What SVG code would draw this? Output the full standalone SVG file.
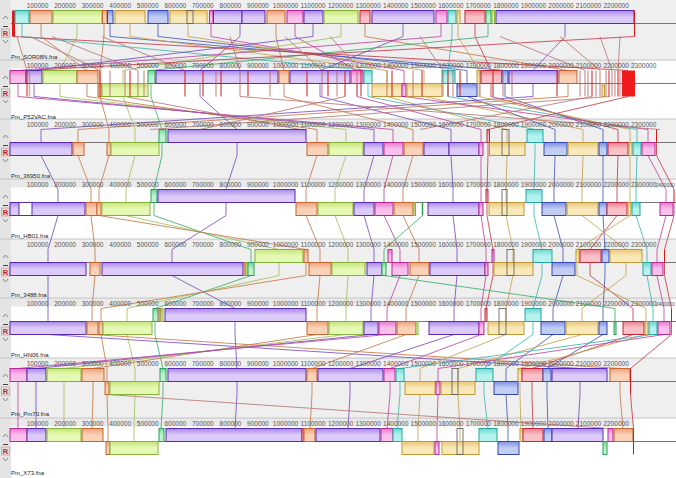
<svg xmlns="http://www.w3.org/2000/svg" xmlns:xlink="http://www.w3.org/1999/xlink" width="676" height="478" viewBox="0 0 676 478">
<style>
text{font-family:"Liberation Sans",Arial,sans-serif}
.num{font-size:6.5px;fill:#555;text-anchor:middle}
.numE{font-size:5px;fill:#555;text-anchor:end}
.lab{font-size:6px;fill:#222}
rect.tl,rect.or,rect.li,rect.ye,rect.bl,rect.pu,rect.pk,rect.rd,rect.mi{stroke-width:1}
rect.tl{fill:url(#g-tl);stroke:#25a59e}
rect.or{fill:url(#g-or);stroke:#c5652f}
rect.li{fill:url(#g-li);stroke:#86b23a}
rect.ye{fill:url(#g-ye);stroke:#c09a3a}
rect.bl{fill:url(#g-bl);stroke:#3548b0}
rect.pu{fill:url(#g-pu);stroke:#5a2ab0}
rect.pk{fill:url(#g-pk);stroke:#b52a92}
rect.rd{fill:url(#g-rd);stroke:#c0283c}
rect.mi{fill:url(#g-mi);stroke:#2f9e58}
.fr{fill:none;stroke:#555;stroke-width:0.8}
.cl{stroke:#777;stroke-width:1}
.rl{stroke:#d01818;stroke-width:1}
.rb{stroke:#b86060;stroke-width:1.5;opacity:0.55}
#connectors polyline{fill:none;stroke-width:1;opacity:0.85}
polyline.tl{stroke:#40b8b0}
polyline.or{stroke:#c87a4a}
polyline.li{stroke:#a2c25a}
polyline.ye{stroke:#c4a450}
polyline.bl{stroke:#4a5ab8}
polyline.pu{stroke:#7a50c0}
polyline.pk{stroke:#c048a0}
polyline.rd{stroke:#c83c4c}
polyline.mi{stroke:#3fae6a}
polyline.rs{stroke:#b87878;opacity:0.5}
</style>
<defs>
<linearGradient id="g-tl" x1="0" y1="0" x2="0" y2="1"><stop offset="0" stop-color="#6fd6d0"/><stop offset="0.5" stop-color="#b4f2ee"/></linearGradient>
<linearGradient id="g-or" x1="0" y1="0" x2="0" y2="1"><stop offset="0" stop-color="#eba27a"/><stop offset="0.5" stop-color="#f9d2b8"/></linearGradient>
<linearGradient id="g-li" x1="0" y1="0" x2="0" y2="1"><stop offset="0" stop-color="#c6e47a"/><stop offset="0.5" stop-color="#e6f9b4"/></linearGradient>
<linearGradient id="g-ye" x1="0" y1="0" x2="0" y2="1"><stop offset="0" stop-color="#e8c878"/><stop offset="0.5" stop-color="#f9e8b8"/></linearGradient>
<linearGradient id="g-bl" x1="0" y1="0" x2="0" y2="1"><stop offset="0" stop-color="#7f90e0"/><stop offset="0.5" stop-color="#c2cdf4"/></linearGradient>
<linearGradient id="g-pu" x1="0" y1="0" x2="0" y2="1"><stop offset="0" stop-color="#a888e8"/><stop offset="0.5" stop-color="#dccaf8"/></linearGradient>
<linearGradient id="g-pk" x1="0" y1="0" x2="0" y2="1"><stop offset="0" stop-color="#e878d0"/><stop offset="0.5" stop-color="#f9c0ec"/></linearGradient>
<linearGradient id="g-rd" x1="0" y1="0" x2="0" y2="1"><stop offset="0" stop-color="#e8808e"/><stop offset="0.5" stop-color="#f9c0c8"/></linearGradient>
<linearGradient id="g-mi" x1="0" y1="0" x2="0" y2="1"><stop offset="0" stop-color="#70d898"/><stop offset="0.5" stop-color="#c0f2d2"/></linearGradient>
<g id="ruler22">
<text class="num" x="37.5" y="7.5">100000</text><text class="num" x="65.1" y="7.5">200000</text><text class="num" x="92.6" y="7.5">300000</text><text class="num" x="120.2" y="7.5">400000</text><text class="num" x="147.7" y="7.5">500000</text><text class="num" x="175.3" y="7.5">600000</text><text class="num" x="202.8" y="7.5">700000</text><text class="num" x="230.4" y="7.5">800000</text><text class="num" x="257.9" y="7.5">900000</text><text class="num" x="285.5" y="7.5">1000000</text><text class="num" x="313" y="7.5">1100000</text><text class="num" x="340.6" y="7.5">1200000</text><text class="num" x="368.1" y="7.5">1300000</text><text class="num" x="395.7" y="7.5">1400000</text><text class="num" x="423.2" y="7.5">1500000</text><text class="num" x="450.8" y="7.5">1600000</text><text class="num" x="478.3" y="7.5">1700000</text><text class="num" x="505.9" y="7.5">1800000</text><text class="num" x="533.4" y="7.5">1900000</text><text class="num" x="561" y="7.5">2000000</text><text class="num" x="588.5" y="7.5">2100000</text><text class="num" x="616.1" y="7.5">2200000</text>
</g>
<g id="ctl">
<polyline points="3,19 5.5,16 8,19" fill="none" stroke="#888" stroke-width="1"/>
<line x1="3" y1="26.5" x2="8" y2="26.5" stroke="#444" stroke-width="1"/>
<rect x="1.5" y="29" width="8" height="8" fill="#e0e0e0" stroke="#c88" stroke-width="0.6"/>
<text x="5.5" y="36" font-size="7.5" font-weight="bold" fill="#d01818" text-anchor="middle">R</text>
<polyline points="3,40 5.5,43 8,40" fill="none" stroke="#888" stroke-width="1"/>
</g>
</defs>

<g id="backgrounds">
<rect x="0" y="0" width="676" height="478" fill="#ffffff"/>
<rect x="0" y="0" width="676" height="60" fill="#efefef"/>
<rect x="0" y="119" width="676" height="60" fill="#efefef"/>
<rect x="0" y="239" width="676" height="59" fill="#efefef"/>
<rect x="0" y="358" width="676" height="60" fill="#efefef"/>
<rect x="11" y="60" width="624" height="8.5" fill="#e9e9e9"/>
<rect x="11" y="179" width="662" height="8.5" fill="#e9e9e9"/>
<rect x="11" y="298" width="660" height="8.5" fill="#e9e9e9"/>
<rect x="11" y="418" width="622" height="8.5" fill="#e9e9e9"/>
<rect x="0" y="0" width="11" height="478" fill="#e4e4e4"/>
<g stroke="#c4c4c4" stroke-width="1">
<line x1="0" y1="60" x2="676" y2="60"/><line x1="0" y1="119" x2="676" y2="119"/><line x1="0" y1="179" x2="676" y2="179"/><line x1="0" y1="239" x2="676" y2="239"/><line x1="0" y1="298" x2="676" y2="298"/><line x1="0" y1="358" x2="676" y2="358"/><line x1="0" y1="418" x2="676" y2="418"/>
</g>
<g class="cl">
<line x1="11" y1="23.5" x2="676" y2="23.5"/><line x1="11" y1="83.5" x2="676" y2="83.5"/><line x1="11" y1="142.5" x2="676" y2="142.5"/><line x1="11" y1="202.5" x2="676" y2="202.5"/><line x1="11" y1="262.5" x2="676" y2="262.5"/><line x1="11" y1="321.5" x2="676" y2="321.5"/><line x1="11" y1="381.5" x2="676" y2="381.5"/><line x1="11" y1="441.5" x2="676" y2="441.5"/>
</g>
</g>

<g id="connectors">
<polyline class="tl" points="22,23.5 22,36.5 368,70.5"/>
<polyline class="or" points="41,23.5 41,36.5 87,70.5"/>
<polyline class="li" points="77,23.5 77,36.5 60,70.5"/>
<polyline class="or" points="104,23.5 104,36.5 100,70.5 100,83.5"/>
<polyline class="bl" points="110,23.5 110,36.5 505,70.5"/>
<polyline class="ye" points="130,23.5 130,36.5 387,70.5 387,83.5"/>
<polyline class="bl" points="158,23.5 158,36.5 467,70.5 467,83.5"/>
<polyline class="ye" points="188,23.5 188,36.5 424,70.5 424,83.5"/>
<polyline class="pk" points="211,23.5 211,36.5 404,70.5 404,83.5"/>
<polyline class="pu" points="240,23.5 240,36.5 200,70.5"/>
<polyline class="or" points="276,23.5 276,36.5 284,70.5"/>
<polyline class="pk" points="295,23.5 295,36.5 357,70.5"/>
<polyline class="pu" points="313,23.5 313,36.5 34,70.5"/>
<polyline class="li" points="341,23.5 341,36.5 123,70.5 123,83.5"/>
<polyline class="or" points="365,23.5 365,36.5 568,70.5"/>
<polyline class="pu" points="403,23.5 403,36.5 320,70.5"/>
<polyline class="pk" points="441,23.5 441,36.5 18,70.5"/>
<polyline class="tl" points="452,23.5 452,36.5 448,70.5"/>
<polyline class="ye" points="458,23.5 458,36.5 479,70.5"/>
<polyline class="rd" points="475,23.5 475,36.5 491,70.5"/>
<polyline class="mi" points="488,23.5 488,36.5 151,70.5"/>
<polyline class="pu" points="565,23.5 565,36.5 533,70.5"/>
<polyline class="rd" points="13,36.5 628,70.5"/>
<polyline class="rd" points="634.5,36.5 28,70.5"/>
<polyline class="rs" points="17,36.5 27,70.5"/>
<polyline class="rs" points="30,36.5 100,70.5"/>
<polyline class="rs" points="52,36.5 138,70.5"/>
<polyline class="rs" points="102,36.5 185,70.5"/>
<polyline class="rs" points="230,36.5 240,70.5"/>
<polyline class="rs" points="285,36.5 322,70.5"/>
<polyline class="rs" points="330,36.5 361,70.5"/>
<polyline class="rs" points="420,36.5 443,70.5"/>
<polyline class="rs" points="500,36.5 585,70.5"/>
<polyline class="rs" points="560,36.5 600,70.5"/>
<polyline class="rs" points="600,36.5 612,70.5"/>
<polyline class="rs" points="620,36.5 618,70.5"/>
<polyline class="pu" points="200,83.5 200,96.5 237,129.5"/>
<polyline class="mi" points="151,83.5 151,96.5 162,129.5"/>
<polyline class="li" points="60,83.5 60,96.5 346,129.5 346,142.5"/>
<polyline class="li" points="123,96.5 135,129.5 135,142.5"/>
<polyline class="or" points="87,83.5 87,96.5 317,129.5 317,142.5"/>
<polyline class="or" points="100,96.5 109,129.5 109,142.5"/>
<polyline class="pu" points="34,83.5 34,96.5 374,129.5 374,142.5"/>
<polyline class="pk" points="18,83.5 18,96.5 393,129.5 393,142.5"/>
<polyline class="or" points="284,83.5 284,96.5 413,129.5 413,142.5"/>
<polyline class="pu" points="320,83.5 320,96.5 451,129.5 451,142.5"/>
<polyline class="pk" points="357,83.5 357,96.5 481,129.5 481,142.5"/>
<polyline class="tl" points="368,83.5 368,96.5 535,129.5"/>
<polyline class="ye" points="387,96.5 507,129.5 507,142.5"/>
<polyline class="ye" points="424,96.5 583,129.5 583,142.5"/>
<polyline class="bl" points="467,96.5 555,129.5 555,142.5"/>
<polyline class="tl" points="448,83.5 448,96.5 637,129.5 637,142.5"/>
<polyline class="rd" points="491,83.5 491,96.5 618,129.5 618,142.5"/>
<polyline class="bl" points="505,83.5 505,96.5 603,129.5 603,142.5"/>
<polyline class="pu" points="533,83.5 533,96.5 41,129.5 41,142.5"/>
<polyline class="or" points="568,83.5 568,96.5 78,129.5 78,142.5"/>
<polyline class="pk" points="404,96.5 648,129.5 648,142.5"/>
<polyline class="ye" points="479,83.5 479,96.5 630,129.5 630,142.5"/>
<polyline class="rd" points="628,96.5 488,129.5"/>
<polyline class="rs" points="125,96.5 300,129.5"/>
<polyline class="rs" points="240,96.5 660,129.5"/>
<polyline class="rs" points="345,96.5 200,129.5"/>
<polyline class="rs" points="592,96.5 420,129.5"/>
<polyline class="rs" points="610,96.5 150,129.5"/>
<polyline class="pu" points="41,155.5 58,189.5 58,202.5"/>
<polyline class="or" points="78,155.5 91,189.5 91,202.5"/>
<polyline class="or" points="109,155.5 99,189.5 99,202.5"/>
<polyline class="li" points="135,155.5 126,189.5 126,202.5"/>
<polyline class="mi" points="162,142.5 162,155.5 154,189.5"/>
<polyline class="pu" points="237,142.5 237,155.5 226,189.5"/>
<polyline class="or" points="317,155.5 306,189.5 306,202.5"/>
<polyline class="li" points="346,155.5 335,189.5 335,202.5"/>
<polyline class="pu" points="374,155.5 364,189.5 364,202.5"/>
<polyline class="pk" points="393,155.5 384,189.5 384,202.5"/>
<polyline class="or" points="413,155.5 403,189.5 403,202.5"/>
<polyline class="pu" points="451,155.5 453,189.5 453,202.5"/>
<polyline class="pk" points="481,155.5 481,189.5 481,202.5"/>
<polyline class="rd" points="488,142.5 488,155.5 487,189.5"/>
<polyline class="ye" points="507,155.5 506,189.5 506,202.5"/>
<polyline class="tl" points="535,142.5 535,155.5 534,189.5"/>
<polyline class="bl" points="555,155.5 554,189.5 554,202.5"/>
<polyline class="ye" points="583,155.5 582,189.5 582,202.5"/>
<polyline class="bl" points="603,155.5 603,189.5 603,202.5"/>
<polyline class="rd" points="618,155.5 617,189.5 617,202.5"/>
<polyline class="ye" points="630,155.5 630,189.5 630,202.5"/>
<polyline class="tl" points="637,155.5 636,189.5 636,202.5"/>
<polyline class="pk" points="648,155.5 666,189.5 666,202.5"/>
<polyline class="rd" points="656.5,142.5 656.5,155.5 674,189.5"/>
<polyline class="pu" points="58,215.5 48,249.5 48,262.5"/>
<polyline class="or" points="91,215.5 95,249.5 95,262.5"/>
<polyline class="pu" points="226,202.5 226,215.5 172,249.5 172,262.5"/>
<polyline class="mi" points="154,202.5 154,215.5 251,249.5 251,262.5"/>
<polyline class="li" points="126,215.5 279,249.5"/>
<polyline class="or" points="99,215.5 306,249.5"/>
<polyline class="or" points="306,215.5 320,249.5 320,262.5"/>
<polyline class="li" points="335,215.5 348,249.5 348,262.5"/>
<polyline class="pu" points="364,215.5 374,249.5 374,262.5"/>
<polyline class="pk" points="384,215.5 400,249.5 400,262.5"/>
<polyline class="or" points="403,215.5 419,249.5 419,262.5"/>
<polyline class="pu" points="453,215.5 457,249.5 457,262.5"/>
<polyline class="pk" points="481,215.5 486,249.5 486,262.5"/>
<polyline class="rd" points="487,202.5 487,215.5 493,249.5"/>
<polyline class="ye" points="506,215.5 513,249.5 513,262.5"/>
<polyline class="tl" points="534,202.5 534,215.5 542,249.5"/>
<polyline class="bl" points="554,215.5 563,249.5 563,262.5"/>
<polyline class="ye" points="582,215.5 626,249.5"/>
<polyline class="bl" points="603,215.5 605,249.5"/>
<polyline class="rd" points="617,215.5 590,249.5"/>
<polyline class="ye" points="630,215.5 577,249.5"/>
<polyline class="tl" points="636,215.5 647,249.5 647,262.5"/>
<polyline class="pk" points="666,215.5 657,249.5 657,262.5"/>
<polyline class="mi" points="422.5,215.5 384,249.5 384,262.5"/>
<polyline class="rd" points="674,202.5 674,215.5 664.5,249.5"/>
<polyline class="pu" points="48,275.5 48,308.5 48,321.5"/>
<polyline class="or" points="95,275.5 92,308.5 92,321.5"/>
<polyline class="pu" points="172,275.5 235,308.5"/>
<polyline class="mi" points="251,275.5 155,308.5"/>
<polyline class="li" points="279,262.5 279,275.5 127,308.5 127,321.5"/>
<polyline class="or" points="306,262.5 306,275.5 101,308.5 101,321.5"/>
<polyline class="or" points="320,275.5 317,308.5 317,321.5"/>
<polyline class="li" points="348,275.5 346,308.5 346,321.5"/>
<polyline class="pu" points="374,275.5 371,308.5 371,321.5"/>
<polyline class="pk" points="400,275.5 387,308.5 387,321.5"/>
<polyline class="or" points="419,275.5 406,308.5 406,321.5"/>
<polyline class="pu" points="457,275.5 454,308.5 454,321.5"/>
<polyline class="pk" points="486,275.5 481,308.5 481,321.5"/>
<polyline class="rd" points="493,262.5 493,275.5 486,308.5"/>
<polyline class="ye" points="513,275.5 506,308.5 506,321.5"/>
<polyline class="tl" points="542,262.5 542,275.5 533,308.5"/>
<polyline class="bl" points="563,275.5 553,308.5 553,321.5"/>
<polyline class="ye" points="626,262.5 626,275.5 582,308.5 582,321.5"/>
<polyline class="bl" points="605,262.5 605,275.5 603,308.5 603,321.5"/>
<polyline class="rd" points="590,262.5 590,275.5 633,308.5 633,321.5"/>
<polyline class="ye" points="577,262.5 577,275.5 646,308.5 646,321.5"/>
<polyline class="tl" points="647,275.5 653,308.5 653,321.5"/>
<polyline class="pk" points="657,275.5 664,308.5 664,321.5"/>
<polyline class="mi" points="384,275.5 615,308.5 615,321.5"/>
<polyline class="rd" points="664.5,262.5 664.5,275.5 671.5,308.5"/>
<polyline class="pu" points="48,334.5 580,368.5"/>
<polyline class="or" points="92,334.5 620,368.5"/>
<polyline class="or" points="101,334.5 107,368.5 107,381.5"/>
<polyline class="li" points="127,334.5 135,368.5 135,381.5"/>
<polyline class="mi" points="155,321.5 155,334.5 163,368.5"/>
<polyline class="pu" points="235,321.5 235,334.5 237,368.5"/>
<polyline class="or" points="317,334.5 93,368.5"/>
<polyline class="li" points="346,334.5 64,368.5"/>
<polyline class="pu" points="371,334.5 36,368.5"/>
<polyline class="pk" points="387,334.5 18,368.5"/>
<polyline class="or" points="406,334.5 312,368.5"/>
<polyline class="pu" points="454,334.5 350,368.5"/>
<polyline class="pk" points="481,334.5 390,368.5"/>
<polyline class="ye" points="506,334.5 420,368.5 420,381.5"/>
<polyline class="tl" points="533,321.5 533,334.5 484,368.5"/>
<polyline class="bl" points="553,334.5 506,368.5 506,381.5"/>
<polyline class="ye" points="582,334.5 458,368.5 458,381.5"/>
<polyline class="bl" points="603,334.5 547,368.5"/>
<polyline class="rd" points="633,334.5 532,368.5"/>
<polyline class="ye" points="646,334.5 520,368.5"/>
<polyline class="tl" points="653,334.5 400,368.5"/>
<polyline class="pk" points="664,334.5 438,368.5 438,381.5"/>
<polyline class="rd" points="671.5,321.5 671.5,334.5 630.5,368.5"/>
<polyline class="pk" points="18,381.5 18,394.5 18,428.5"/>
<polyline class="pu" points="36,381.5 36,394.5 36,428.5"/>
<polyline class="li" points="64,381.5 64,394.5 64,428.5"/>
<polyline class="or" points="93,381.5 93,394.5 92,428.5"/>
<polyline class="or" points="107,394.5 108,428.5 108,441.5"/>
<polyline class="li" points="135,394.5 134,428.5 134,441.5"/>
<polyline class="mi" points="163,381.5 163,394.5 161,428.5"/>
<polyline class="pu" points="237,381.5 237,394.5 235,428.5"/>
<polyline class="or" points="312,381.5 312,394.5 310,428.5"/>
<polyline class="pu" points="350,381.5 350,394.5 348,428.5"/>
<polyline class="pk" points="390,381.5 390,394.5 387,428.5"/>
<polyline class="tl" points="400,381.5 400,394.5 397,428.5"/>
<polyline class="ye" points="420,394.5 418,428.5 418,441.5"/>
<polyline class="pk" points="438,394.5 437,428.5 437,441.5"/>
<polyline class="ye" points="458,394.5 460,428.5 460,441.5"/>
<polyline class="tl" points="484,381.5 484,394.5 488,428.5"/>
<polyline class="bl" points="506,394.5 508,428.5 508,441.5"/>
<polyline class="ye" points="520,381.5 520,394.5 521,428.5"/>
<polyline class="rd" points="532,381.5 532,394.5 533,428.5"/>
<polyline class="bl" points="547,381.5 547,394.5 548,428.5"/>
<polyline class="pu" points="580,381.5 580,394.5 578,428.5"/>
<polyline class="or" points="620,381.5 620,394.5 623,428.5"/>
<polyline class="rd" points="630.5,394.5 633.5,428.5"/>
<polyline class="rs" points="107,394.5 610,428.5"/>
</g>

<g id="genome-1">
<use href="#ruler22"/>
<use href="#ctl"/>
<rect x="12" y="10.5" width="3" height="26" fill="#e01818"/>
<rect class="tl" x="15" y="10.5" width="14" height="13"/>
<rect class="or" x="30" y="10.5" width="22" height="13"/>
<rect class="li" x="53" y="10.5" width="49" height="13"/>
<rect class="or" x="102.5" y="10.5" width="4.5" height="13"/>
<rect class="bl" x="107.5" y="10.5" width="5.5" height="13"/>
<rect class="ye" x="115" y="10.5" width="30" height="13"/>
<rect class="bl" x="148" y="10.5" width="20" height="13"/>
<rect class="ye" x="170" y="10.5" width="37" height="13"/>
<rect class="fr" x="187" y="10.5" width="6" height="13"/>
<rect class="pk" x="209.5" y="10.5" width="3.5" height="13"/>
<rect class="pu" x="213.5" y="10.5" width="28.5" height="13"/>
<rect class="pu" x="242" y="10.5" width="23" height="13"/>
<rect class="or" x="267" y="10.5" width="18" height="13"/>
<rect class="pk" x="287" y="10.5" width="16" height="13"/>
<rect class="pu" x="304" y="10.5" width="19" height="13"/>
<rect class="li" x="324" y="10.5" width="34" height="13"/>
<rect class="rd" x="360" y="10.5" width="10" height="13"/>
<rect class="pu" x="372" y="10.5" width="62" height="13"/>
<rect class="pk" x="436" y="10.5" width="11" height="13"/>
<rect class="tl" x="448" y="10.5" width="8" height="13"/>
<rect class="ye" x="457" y="10.5" width="3" height="13"/>
<rect class="rd" x="465" y="10.5" width="20" height="13"/>
<rect class="mi" x="486" y="10.5" width="5" height="13"/>
<rect class="li" x="492" y="10.5" width="2.5" height="13"/>
<rect class="pu" x="496" y="10.5" width="138" height="13"/>
<line class="rl" x1="634.5" y1="10.5" x2="634.5" y2="36.5"/>
<text class="lab" x="11" y="58.5">Pm_SOR08N.fna</text>
</g>

<g id="genome-2" transform="translate(0,60)">
<use href="#ruler22"/>
<text class="num" x="643.6" y="7.5">2300000</text>
<use href="#ctl"/>
<rect class="pk" x="10" y="10.5" width="16" height="13"/>
<rect class="pu" x="26" y="10.5" width="16" height="13"/>
<rect class="li" x="43" y="10.5" width="34" height="13"/>
<rect class="or" x="77" y="10.5" width="21" height="13"/>
<rect class="or" x="98" y="23.5" width="4" height="13"/>
<rect class="li" x="102" y="23.5" width="46" height="13"/>
<rect class="mi" x="148" y="10.5" width="7" height="13"/>
<rect class="pu" x="156" y="10.5" width="122" height="13"/>
<rect class="or" x="279" y="10.5" width="10" height="13"/>
<rect class="pu" x="290" y="10.5" width="60" height="13"/>
<rect class="pk" x="351" y="10.5" width="12" height="13"/>
<rect class="tl" x="364" y="10.5" width="8" height="13"/>
<rect class="ye" x="372" y="23.5" width="30" height="13"/>
<rect class="pk" x="402" y="23.5" width="4" height="13"/>
<rect class="ye" x="407" y="23.5" width="35" height="13"/>
<rect class="tl" x="442" y="10.5" width="13" height="13"/>
<rect class="bl" x="457" y="23.5" width="20" height="13"/>
<rect class="ye" x="477" y="10.5" width="4" height="13"/>
<rect class="rd" x="481" y="10.5" width="21" height="13"/>
<rect class="bl" x="502" y="10.5" width="6" height="13"/>
<rect class="pu" x="509" y="10.5" width="49" height="13"/>
<rect class="or" x="559" y="10.5" width="18" height="13"/>
<rect class="ye" x="602" y="23.5" width="2.5" height="13"/>
<g>
<line class="rl" x1="27" y1="10.5" x2="27" y2="36.5"/><line class="rb" x1="29.5" y1="10.5" x2="29.5" y2="36.5"/><line class="rl" x1="100" y1="10.5" x2="100" y2="36.5"/><line class="rb" x1="110" y1="10.5" x2="110" y2="36.5"/><line class="rb" x1="125" y1="10.5" x2="125" y2="36.5"/><line class="rl" x1="130" y1="10.5" x2="130" y2="36.5"/><line class="rb" x1="138" y1="10.5" x2="138" y2="36.5"/><line class="rb" x1="144" y1="10.5" x2="144" y2="36.5"/><line class="rl" x1="185" y1="10.5" x2="185" y2="36.5"/><line class="rl" x1="203" y1="10.5" x2="203" y2="36.5"/><line class="rb" x1="216" y1="10.5" x2="216" y2="36.5"/><line class="rl" x1="221" y1="10.5" x2="221" y2="36.5"/><line class="rb" x1="240" y1="10.5" x2="240" y2="36.5"/><line class="rl" x1="248" y1="10.5" x2="248" y2="36.5"/><line class="rb" x1="270" y1="10.5" x2="270" y2="36.5"/><line class="rl" x1="307" y1="10.5" x2="307" y2="36.5"/><line class="rb" x1="322" y1="10.5" x2="322" y2="36.5"/><line class="rl" x1="328" y1="10.5" x2="328" y2="36.5"/><line class="rb" x1="337" y1="10.5" x2="337" y2="36.5"/><line class="rl" x1="345" y1="10.5" x2="345" y2="36.5"/><line class="rb" x1="357" y1="10.5" x2="357" y2="36.5"/><line class="rl" x1="361" y1="10.5" x2="361" y2="36.5"/><line class="rb" x1="387" y1="10.5" x2="387" y2="36.5"/><line class="rl" x1="392" y1="10.5" x2="392" y2="36.5"/><line class="rb" x1="413" y1="10.5" x2="413" y2="36.5"/><line class="rl" x1="422" y1="10.5" x2="422" y2="36.5"/><line class="rb" x1="443" y1="10.5" x2="443" y2="36.5"/><line class="rl" x1="448" y1="10.5" x2="448" y2="36.5"/><line class="rb" x1="453" y1="10.5" x2="453" y2="36.5"/><line class="rl" x1="460" y1="10.5" x2="460" y2="36.5"/><line class="rb" x1="480" y1="10.5" x2="480" y2="36.5"/><line class="rl" x1="493" y1="10.5" x2="493" y2="36.5"/><line class="rb" x1="503" y1="10.5" x2="503" y2="36.5"/><line class="rb" x1="512" y1="10.5" x2="512" y2="36.5"/><line class="rl" x1="557" y1="10.5" x2="557" y2="36.5"/><line class="rb" x1="580" y1="10.5" x2="580" y2="36.5"/><line class="rb" x1="585" y1="10.5" x2="585" y2="36.5"/><line class="rb" x1="588" y1="10.5" x2="588" y2="36.5"/><line class="rl" x1="592" y1="10.5" x2="592" y2="36.5"/><line class="rb" x1="596" y1="10.5" x2="596" y2="36.5"/><line class="rb" x1="600" y1="10.5" x2="600" y2="36.5"/><line class="rb" x1="606" y1="10.5" x2="606" y2="36.5"/><line class="rl" x1="609" y1="10.5" x2="609" y2="36.5"/><line class="rb" x1="612" y1="10.5" x2="612" y2="36.5"/><line class="rb" x1="615" y1="10.5" x2="615" y2="36.5"/><line class="rl" x1="618" y1="10.5" x2="618" y2="36.5"/><line class="rb" x1="620" y1="10.5" x2="620" y2="36.5"/>
</g>
<rect x="622" y="10.5" width="13" height="26" fill="#f01c1c"/>
<text class="lab" x="11" y="58.5">Pm_P52VAC.fna</text>
</g>

<g id="genome-3" transform="translate(0,119)">
<use href="#ruler22"/>
<text class="num" x="643.6" y="7.5">2300000</text>
<use href="#ctl"/>
<rect class="pu" x="10" y="23.5" width="62" height="13"/>
<rect class="or" x="73" y="23.5" width="11" height="13"/>
<rect class="or" x="107" y="23.5" width="4" height="13"/>
<rect class="li" x="111" y="23.5" width="48" height="13"/>
<rect class="mi" x="159" y="10.5" width="7" height="13"/>
<rect class="pu" x="168" y="10.5" width="138" height="13"/>
<rect class="or" x="307" y="23.5" width="21" height="13"/>
<rect class="li" x="329" y="23.5" width="34" height="13"/>
<rect class="pu" x="364" y="23.5" width="19" height="13"/>
<rect class="pk" x="384" y="23.5" width="19" height="13"/>
<rect class="or" x="404" y="23.5" width="19" height="13"/>
<rect class="pu" x="424" y="23.5" width="25" height="13"/>
<rect class="pu" x="449" y="23.5" width="30" height="13"/>
<rect class="pk" x="479" y="23.5" width="4" height="13"/>
<rect class="rd" x="487" y="10.5" width="2.5" height="13"/>
<rect class="ye" x="489.5" y="23.5" width="35.5" height="13"/>
<rect class="fr" x="502" y="10.5" width="7" height="26"/>
<rect class="tl" x="527" y="10.5" width="16" height="13"/>
<rect class="bl" x="544" y="23.5" width="23" height="13"/>
<rect class="ye" x="568" y="23.5" width="30" height="13"/>
<rect class="bl" x="599" y="23.5" width="8" height="13"/>
<rect class="rd" x="608" y="23.5" width="20" height="13"/>
<rect class="ye" x="629" y="23.5" width="3" height="13"/>
<rect class="tl" x="633" y="23.5" width="8" height="13"/>
<rect class="pk" x="642" y="23.5" width="13" height="13"/>
<line class="rl" x1="656.5" y1="10.5" x2="656.5" y2="23.5"/>
<text class="lab" x="11" y="58.5">Pm_36950.fna</text>
</g>

<g id="genome-4" transform="translate(0,179)">
<use href="#ruler22"/>
<text class="num" x="643.6" y="7.5">2300000</text>
<text class="numE" x="675" y="7.5">2400000</text>
<use href="#ctl"/>
<rect class="pu" x="10" y="23.5" width="75" height="13"/>
<rect x="19" y="23.5" width="13" height="13" fill="#ffffff" stroke="#5a2ab0" stroke-width="1"/>
<rect class="or" x="86" y="23.5" width="11" height="13"/>
<rect class="or" x="97" y="23.5" width="4" height="13"/>
<rect class="li" x="102" y="23.5" width="48" height="13"/>
<rect class="mi" x="151" y="10.5" width="6" height="13"/>
<rect class="pu" x="158" y="10.5" width="137" height="13"/>
<rect class="or" x="296" y="23.5" width="21" height="13"/>
<rect class="li" x="318" y="23.5" width="35" height="13"/>
<rect class="pu" x="354" y="23.5" width="20" height="13"/>
<rect class="pk" x="375" y="23.5" width="18" height="13"/>
<rect class="or" x="394" y="23.5" width="19" height="13"/>
<rect class="li" x="414" y="23.5" width="1.5" height="13"/>
<line x1="422.5" y1="23.5" x2="422.5" y2="36.5" stroke="#2f9e58" stroke-width="1.5"/>
<rect class="pu" x="428" y="23.5" width="51" height="13"/>
<rect class="pk" x="479" y="23.5" width="4" height="13"/>
<rect class="rd" x="486" y="10.5" width="2" height="13"/>
<rect class="ye" x="489" y="23.5" width="35" height="13"/>
<rect class="fr" x="502" y="10.5" width="5" height="26"/>
<rect class="tl" x="526" y="10.5" width="16" height="13"/>
<rect class="bl" x="542" y="23.5" width="24" height="13"/>
<rect class="ye" x="567" y="23.5" width="31" height="13"/>
<rect class="bl" x="599" y="23.5" width="8" height="13"/>
<rect class="rd" x="607" y="23.5" width="20" height="13"/>
<rect class="ye" x="628" y="23.5" width="3" height="13"/>
<rect class="tl" x="632" y="23.5" width="8" height="13"/>
<rect class="pk" x="660" y="23.5" width="13" height="13"/>
<line class="rl" x1="674" y1="10.5" x2="674" y2="23.5"/>
<text class="lab" x="11" y="58.5">Pm_HB01.fna</text>
</g>

<g id="genome-5" transform="translate(0,239)">
<use href="#ruler22"/>
<text class="num" x="643.6" y="7.5">2300000</text>
<use href="#ctl"/>
<rect class="pu" x="10" y="23.5" width="76" height="13"/>
<rect class="or" x="90" y="23.5" width="10" height="13"/>
<rect class="pu" x="102" y="23.5" width="141" height="13"/>
<rect class="or" x="244" y="23.5" width="2" height="13"/>
<rect class="li" x="246" y="23.5" width="2" height="13"/>
<rect class="mi" x="248" y="23.5" width="6" height="13"/>
<rect class="li" x="255" y="10.5" width="48" height="13"/>
<rect class="or" x="304" y="10.5" width="4" height="13"/>
<rect class="or" x="309" y="23.5" width="22" height="13"/>
<rect class="li" x="332" y="23.5" width="33" height="13"/>
<rect class="pu" x="367" y="23.5" width="15" height="13"/>
<rect class="mi" x="382" y="23.5" width="4" height="13"/>
<rect class="pk" x="388" y="10.5" width="4" height="13"/>
<rect class="pk" x="392" y="23.5" width="16" height="13"/>
<rect class="or" x="410" y="23.5" width="19" height="13"/>
<rect class="pu" x="430" y="23.5" width="55" height="13"/>
<rect class="pk" x="485" y="23.5" width="3" height="13"/>
<rect class="pk" x="492" y="10.5" width="2" height="13"/>
<rect class="ye" x="494" y="23.5" width="39" height="13"/>
<rect class="fr" x="507" y="10.5" width="7" height="26"/>
<rect class="tl" x="533" y="10.5" width="19" height="13"/>
<rect class="bl" x="552" y="23.5" width="23" height="13"/>
<rect class="ye" x="576" y="10.5" width="3" height="13"/>
<rect class="rd" x="580" y="10.5" width="21" height="13"/>
<rect class="bl" x="602" y="10.5" width="7" height="13"/>
<rect class="ye" x="610" y="10.5" width="32" height="13"/>
<rect class="tl" x="643" y="23.5" width="8" height="13"/>
<rect class="pk" x="652" y="23.5" width="11" height="13"/>
<line class="rl" x1="664.5" y1="10.5" x2="664.5" y2="23.5"/>
<text class="lab" x="11" y="58">Pm_3488.fna</text>
</g>

<g id="genome-6" transform="translate(0,298)">
<use href="#ruler22"/>
<text class="num" x="643.6" y="7.5">2300000</text>
<text class="numE" x="675" y="7.5">2400000</text>
<use href="#ctl"/>
<rect class="pu" x="10" y="23.5" width="76" height="13"/>
<rect class="or" x="87" y="23.5" width="11" height="13"/>
<rect class="or" x="99" y="23.5" width="4" height="13"/>
<rect class="li" x="103" y="23.5" width="49" height="13"/>
<rect class="mi" x="153" y="10.5" width="5" height="13"/>
<rect class="or" x="159" y="10.5" width="2" height="13"/>
<rect class="li" x="161" y="10.5" width="2" height="13"/>
<rect class="pu" x="165" y="10.5" width="141" height="13"/>
<rect class="or" x="307" y="23.5" width="21" height="13"/>
<rect class="li" x="329" y="23.5" width="34" height="13"/>
<rect class="pu" x="364" y="23.5" width="14" height="13"/>
<rect class="pk" x="379" y="23.5" width="17" height="13"/>
<rect class="or" x="397" y="23.5" width="19" height="13"/>
<rect class="li" x="416" y="23.5" width="2" height="13"/>
<rect class="pu" x="429" y="23.5" width="50" height="13"/>
<rect class="pk" x="479" y="23.5" width="5" height="13"/>
<rect class="rd" x="485" y="10.5" width="2" height="13"/>
<rect class="ye" x="488" y="23.5" width="36" height="13"/>
<rect class="fr" x="499" y="10.5" width="7" height="26"/>
<rect class="tl" x="525" y="10.5" width="16" height="13"/>
<rect class="bl" x="541" y="23.5" width="24" height="13"/>
<rect class="ye" x="566" y="23.5" width="32" height="13"/>
<rect class="bl" x="599" y="23.5" width="8" height="13"/>
<rect class="mi" x="614" y="23.5" width="2" height="13"/>
<rect class="rd" x="623" y="23.5" width="21" height="13"/>
<rect class="ye" x="645" y="23.5" width="3" height="13"/>
<rect class="tl" x="649" y="23.5" width="8" height="13"/>
<rect class="pk" x="658" y="23.5" width="12" height="13"/>
<line class="rl" x1="671.5" y1="10.5" x2="671.5" y2="23.5"/>
<text class="lab" x="11" y="58.5">Pm_HN06.fna</text>
</g>

<g id="genome-7" transform="translate(0,358)">
<use href="#ruler22"/>
<use href="#ctl"/>
<rect class="pk" x="10" y="10.5" width="17" height="13"/>
<rect class="pu" x="27" y="10.5" width="19" height="13"/>
<rect class="li" x="47" y="10.5" width="34" height="13"/>
<rect class="or" x="82" y="10.5" width="22" height="13"/>
<rect class="or" x="105" y="23.5" width="4" height="13"/>
<rect class="li" x="110" y="23.5" width="49" height="13"/>
<rect class="mi" x="160" y="10.5" width="6" height="13"/>
<rect class="pu" x="168" y="10.5" width="138" height="13"/>
<rect class="or" x="307" y="10.5" width="10" height="13"/>
<rect class="pu" x="318" y="10.5" width="65" height="13"/>
<rect class="pk" x="384" y="10.5" width="11" height="13"/>
<rect class="tl" x="396" y="10.5" width="8" height="13"/>
<rect class="ye" x="405" y="23.5" width="30" height="13"/>
<rect class="pk" x="436" y="23.5" width="4" height="13"/>
<rect class="ye" x="441" y="23.5" width="34" height="13"/>
<rect class="fr" x="452" y="10.5" width="6" height="26"/>
<rect class="tl" x="476" y="10.5" width="17" height="13"/>
<rect class="bl" x="494" y="23.5" width="24" height="13"/>
<rect class="ye" x="518" y="10.5" width="4" height="13"/>
<rect class="rd" x="522" y="10.5" width="21" height="13"/>
<rect class="bl" x="543" y="10.5" width="8" height="13"/>
<rect class="pu" x="552" y="10.5" width="55" height="13"/>
<rect class="or" x="610" y="10.5" width="20" height="13"/>
<line class="rl" x1="630.5" y1="10.5" x2="630.5" y2="36.5"/>
<text class="lab" x="11" y="57.5">Pm_Pm70.fna</text>
</g>

<g id="genome-8" transform="translate(0,418)">
<use href="#ruler22"/>
<use href="#ctl"/>
<rect class="pk" x="10" y="10.5" width="17" height="13"/>
<rect class="pu" x="27" y="10.5" width="19" height="13"/>
<rect class="li" x="47" y="10.5" width="34" height="13"/>
<rect class="or" x="82" y="10.5" width="21" height="13"/>
<rect class="or" x="106" y="23.5" width="4" height="13"/>
<rect class="li" x="110" y="23.5" width="48" height="13"/>
<rect class="mi" x="159" y="10.5" width="5" height="13"/>
<rect class="pu" x="166" y="10.5" width="136" height="13"/>
<rect class="rd" x="302" y="10.5" width="2" height="13"/>
<rect class="or" x="304" y="10.5" width="11" height="13"/>
<rect class="pu" x="316" y="10.5" width="64" height="13"/>
<rect class="pk" x="381" y="10.5" width="12" height="13"/>
<rect class="tl" x="393" y="10.5" width="9" height="13"/>
<rect class="ye" x="402" y="23.5" width="32" height="13"/>
<rect class="pk" x="435" y="23.5" width="4" height="13"/>
<rect class="ye" x="442" y="23.5" width="37" height="13"/>
<rect class="fr" x="457" y="10.5" width="6" height="26"/>
<rect class="tl" x="479" y="10.5" width="18" height="13"/>
<rect class="bl" x="498" y="23.5" width="21" height="13"/>
<rect class="ye" x="520" y="10.5" width="3" height="13"/>
<rect class="rd" x="523" y="10.5" width="20" height="13"/>
<rect class="bl" x="544" y="10.5" width="8" height="13"/>
<rect class="pu" x="552" y="10.5" width="51" height="13"/>
<rect class="mi" x="603" y="23.5" width="4" height="13"/>
<rect class="pk" x="608" y="10.5" width="5" height="13"/>
<rect class="or" x="614" y="10.5" width="19" height="13"/>
<line class="rl" x1="633.5" y1="10.5" x2="633.5" y2="36.5"/>
<text class="lab" x="11" y="57">Pm_X73.fna</text>
</g>
</svg>
